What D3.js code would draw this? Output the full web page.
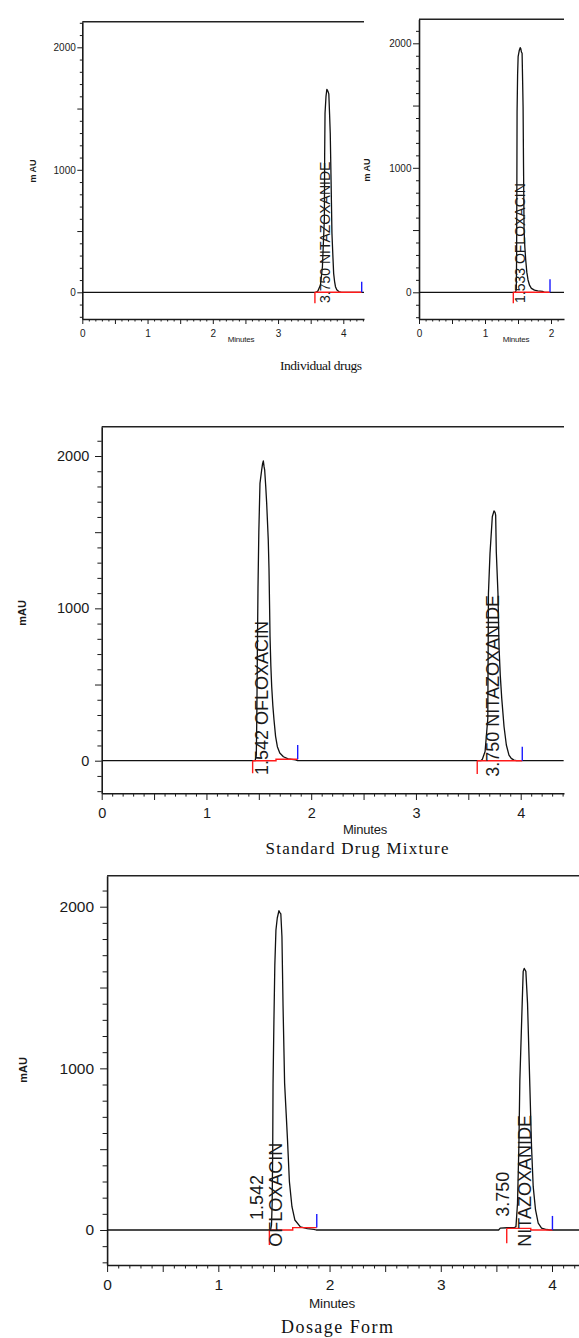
<!DOCTYPE html>
<html>
<head>
<meta charset="utf-8">
<script src="https://cdn.jsdelivr.net/npm/d3@7"></script>
<style>
  html, body { margin: 0; padding: 0; background: #fff; }
  svg { display: block; }
</style>
</head>
<body>
<svg id="chart" width="579" height="1338"></svg>
<script>
// ---------------- data ----------------
// axis tick labels
const minuteTickLabels = ['0', '1', '2', '3', '4'];
const mauTickLabels = ['0', '1000', '2000'];

// chromatogram traces: [retention time (min), absorbance (mAU)]
const nitazoxanideAloneTrace = [
  [0, 0], [3.58, 0], [3.61, 10], [3.65, 60], [3.68, 209], [3.71, 600], [3.714, 1100],
  [3.72, 1461], [3.735, 1600], [3.748, 1657], [3.765, 1640], [3.778, 1620], [3.79, 1450],
  [3.80, 1298], [3.813, 900], [3.826, 482], [3.84, 300], [3.852, 155], [3.866, 90],
  [3.88, 46], [3.90, 20], [3.93, 6], [3.97, 0], [4.32, 0]
];
const ofloxacinAloneTrace = [
  [0, 0], [1.46, 0], [1.474, 20], [1.479, 300], [1.483, 900], [1.486, 1451], [1.494, 1750],
  [1.502, 1893], [1.518, 1940], [1.533, 1965], [1.542, 1958], [1.552, 1930], [1.562, 1920],
  [1.570, 1700], [1.577, 1491], [1.584, 1000], [1.592, 500], [1.604, 360], [1.617, 259],
  [1.634, 160], [1.652, 99], [1.676, 55], [1.703, 32], [1.75, 18], [1.80, 12], [1.87, 8],
  [1.90, 0], [2.2, 0]
];
const standardMixtureTrace = [
  [0, 0], [1.465, 0], [1.476, 40], [1.481, 300], [1.486, 700], [1.492, 1131], [1.50, 1500],
  [1.511, 1820], [1.527, 1907], [1.536, 1950], [1.543, 1968], [1.550, 1930], [1.556, 1907],
  [1.566, 1800], [1.575, 1689], [1.590, 1450], [1.597, 1262], [1.603, 1000], [1.607, 814],
  [1.615, 620], [1.623, 486], [1.634, 360], [1.645, 267], [1.660, 160], [1.677, 92],
  [1.70, 50], [1.735, 26], [1.78, 12], [1.85, 6], [1.87, 0],
  [3.62, 0], [3.634, 10], [3.66, 60], [3.686, 278], [3.692, 1098], [3.707, 1361],
  [3.729, 1601], [3.745, 1640], [3.755, 1630], [3.761, 1612], [3.767, 1371], [3.783, 1098],
  [3.793, 748], [3.805, 560], [3.819, 409], [3.841, 223], [3.863, 103], [3.888, 37],
  [3.91, 15], [3.936, 4], [3.96, 0], [4.41, 0]
];
const dosageFormTrace = [
  [0, 0], [1.47, 0], [1.478, 30], [1.484, 165], [1.489, 500], [1.492, 907], [1.50, 1300],
  [1.508, 1639], [1.518, 1855], [1.530, 1930], [1.545, 1975], [1.552, 1965], [1.562, 1955],
  [1.572, 1814], [1.582, 1381], [1.596, 907], [1.610, 720], [1.622, 557], [1.639, 299],
  [1.662, 144], [1.688, 62], [1.738, 19], [1.80, 8], [1.86, 4], [1.88, 0],
  [3.52, 0], [3.535, 12], [3.60, 14], [3.66, 14], [3.676, 21], [3.690, 165], [3.702, 515],
  [3.711, 928], [3.732, 1402], [3.741, 1600], [3.75, 1618], [3.757, 1610], [3.765, 1600],
  [3.78, 1402], [3.801, 886], [3.816, 515], [3.831, 268], [3.852, 124], [3.876, 42],
  [3.906, 12], [3.95, 3], [3.98, 0], [4.45, 0]
];

// integration events: start/end times, start drop and end rise (mAU), baseline drawn between
const nitazoxanideAloneEvents = [
  { start: 3.565, end: 4.282, drop: -90, rise: 87, base: [[3.565, 0], [4.282, 0]] }
];
const ofloxacinAloneEvents = [
  { start: 1.429, end: 1.985, drop: -88, rise: 104, base: [[1.429, 0], [1.985, 0]] }
];
const standardMixtureEvents = [
  { start: 1.441, end: 1.871, drop: -83, rise: 103, base: [[1.441, 0], [1.664, 0], [1.664, 10], [1.871, 10]] },
  { start: 3.585, end: 4.015, drop: -87, rise: 92, base: [[3.585, 0], [4.015, 0]] }
];
const dosageFormEvents = [
  { start: 1.459, end: 1.885, drop: -93, rise: 99, base: [[1.459, 0], [1.669, 0], [1.669, 15], [1.885, 15]] },
  { start: 3.593, end: 4.004, drop: -82, rise: 87, base: [[3.593, 10], [3.809, 10], [3.809, 0], [4.004, 0]] }
];

// peak annotations: text, time of label centre, mAU where the text starts
const nitazoxanideAloneLabels = [{ text: '3.750 NITAZOXANIDE', t: 3.72, v: -87 }];
const ofloxacinAloneLabels = [{ text: '1.533 OFLOXACIN', t: 1.53, v: -86 }];
const standardMixtureLabels = [
  { text: '1.542 OFLOXACIN', t: 1.521, v: -94 },
  { text: '3.750 NITAZOXANIDE', t: 3.735, v: -105 }
];
const dosageFormLabels = [
  { text: '1.542', t: 1.339, v: 62 },
  { text: 'OFLOXACIN', t: 1.51, v: -103 },
  { text: '3.750', t: 3.558, v: 82 },
  { text: 'NITAZOXANIDE', t: 3.749, v: -103 }
];

// ---------------- layout ----------------
const panels = [
  { id: 'tl', trace: nitazoxanideAloneTrace, events: nitazoxanideAloneEvents, labels: nitazoxanideAloneLabels,
    x0: 82.3, xRefVal: 4, xRef: 343.3, xRight: 364, yZero: 292.3, y2000: 47.3, yTop: 21.7, yBot: 319,
    tickFont: 10, yMajor: 5, yMinor: 2.5, yPad: 1.5, xMajor: 5, xMinor: 2.5, xPad: 5.4,
    labelFont: 14, minutes: [241, 339], minutesFont: 8, mau: [33, 171], mauFont: 9, mauText: 'm AU' },
  { id: 'tr', trace: ofloxacinAloneTrace, events: ofloxacinAloneEvents, labels: ofloxacinAloneLabels,
    x0: 419, xRefVal: 2, xRef: 551, xRight: 564, yZero: 292.3, y2000: 43.3, yTop: 19.3, yBot: 319,
    tickFont: 10, yMajor: 6, yMinor: 3, yPad: 1.5, xMajor: 5, xMinor: 2.5, xPad: 5.4,
    labelFont: 14, minutes: [516, 339], minutesFont: 8, mau: [367, 170], mauFont: 9, mauText: 'm AU' },
  { id: 'mid', trace: standardMixtureTrace, events: standardMixtureEvents, labels: standardMixtureLabels,
    x0: 101.7, xRefVal: 4, xRef: 520.7, xRight: 564, yZero: 760.7, y2000: 456, yTop: 426.7, yBot: 793.3,
    tickFont: 14.5, yMajor: 6.7, yMinor: 4.3, yPad: 5.7, xMajor: 6.7, xMinor: 3.3, xPad: 7.5,
    labelFont: 18, minutes: [365, 829], minutesFont: 13, mau: [22, 613], mauFont: 11, mauText: 'mAU' },
  { id: 'bot', trace: dosageFormTrace, events: dosageFormEvents, labels: dosageFormLabels,
    x0: 107.1, xRefVal: 4, xRef: 552, xRight: 600, yZero: 1230, y2000: 906.7, yTop: 875.7, yBot: 1265,
    tickFont: 15.5, yMajor: 7, yMinor: 4.5, yPad: 6, xMajor: 7, xMinor: 3.5, xPad: 7.4,
    labelFont: 18, minutes: [332, 1303], minutesFont: 13.5, mau: [23, 1070], mauFont: 11, mauText: 'mAU' }
];

// figure captions (y is the text baseline)
const titles = [
  { text: 'Individual drugs', x: 321, y: 370, size: 13.5, len: 82 },
  { text: 'Standard Drug Mixture', x: 357, y: 853.5, size: 17, len: 183 },
  { text: 'Dosage Form', x: 337, y: 1332.5, size: 18, len: 112 }
];

const SANS = '"Liberation Sans", Arial, sans-serif';
const SERIF = '"Liberation Serif", "Times New Roman", serif';
const INK = '#1a1a1a';

const svg = d3.select('#chart');
const defs = svg.append('defs');

function styleAxis(sel, cfg) {
  sel.attr('font-family', SANS).attr('font-size', cfg.tickFont).attr('color', INK);
  sel.selectAll('.tick line').attr('stroke-width', 1);
  sel.selectAll('.tick text').attr('fill', INK);
}

function drawPanel(cfg) {
  const g = svg.append('g').attr('class', 'panel-' + cfg.id);

  const x = d3.scaleLinear().domain([0, cfg.xRefVal]).range([cfg.x0, cfg.xRef]);
  x.domain([0, x.invert(cfg.xRight)]).range([cfg.x0, cfg.xRight]);
  const y = d3.scaleLinear().domain([0, 2000]).range([cfg.yZero, cfg.y2000]);
  y.domain([y.invert(cfg.yBot), y.invert(cfg.yTop)]).range([cfg.yBot, cfg.yTop]);

  const [vMin, vMax] = y.domain();
  const tMax = x.domain()[1];

  // frame top edge
  g.append('line')
    .attr('x1', cfg.x0).attr('x2', cfg.xRight)
    .attr('y1', cfg.yTop).attr('y2', cfg.yTop)
    .attr('stroke', '#222').attr('stroke-width', 1.5);

  // y axis: minor ticks every 100, long ticks every 500, labels on thousands
  const yMinorVals = d3.range(Math.ceil(vMin / 100) * 100, vMax, 100).filter(v => v % 500 !== 0);
  const yMajorVals = d3.range(Math.ceil(vMin / 500) * 500, vMax, 500);
  const yMinorAxis = g.append('g').attr('transform', `translate(${cfg.x0},0)`)
    .call(d3.axisLeft(y).tickValues(yMinorVals).tickSize(cfg.yMinor).tickSizeOuter(0).tickFormat(''));
  yMinorAxis.select('.domain').remove();
  styleAxis(yMinorAxis, cfg);
  const yMajorAxis = g.append('g').attr('transform', `translate(${cfg.x0},0)`)
    .call(d3.axisLeft(y).tickValues(yMajorVals).tickSize(cfg.yMajor).tickSizeOuter(0).tickPadding(cfg.yPad)
      .tickFormat(v => mauTickLabels.includes(String(v)) ? String(v) : ''));
  styleAxis(yMajorAxis, cfg);
  yMajorAxis.select('.domain').attr('stroke-width', 1.6);

  // x axis: minor ticks every 0.1 min, long ticks every 0.5, labels on whole minutes
  const xMinorVals = d3.range(1, Math.floor(tMax * 10 + 1e-6) + 1).map(i => i / 10).filter(t => Math.abs(t * 2 - Math.round(t * 2)) > 1e-6);
  const xMajorVals = d3.range(0, tMax + 1e-6, 0.5);
  const xMinorAxis = g.append('g').attr('transform', `translate(0,${cfg.yBot})`)
    .call(d3.axisBottom(x).tickValues(xMinorVals).tickSize(cfg.xMinor).tickSizeOuter(0).tickFormat(''));
  xMinorAxis.select('.domain').remove();
  styleAxis(xMinorAxis, cfg);
  const xMajorAxis = g.append('g').attr('transform', `translate(0,${cfg.yBot})`)
    .call(d3.axisBottom(x).tickValues(xMajorVals).tickSize(cfg.xMajor).tickSizeOuter(0).tickPadding(cfg.xPad)
      .tickFormat(t => Number.isInteger(t) && minuteTickLabels[t] !== undefined ? minuteTickLabels[t] : ''));
  styleAxis(xMajorAxis, cfg);
  xMajorAxis.select('.domain').attr('stroke-width', 1.6);

  // plot area clip
  const clipId = 'clip-' + cfg.id;
  defs.append('clipPath').attr('id', clipId).append('rect')
    .attr('x', cfg.x0).attr('y', cfg.yTop)
    .attr('width', cfg.xRight - cfg.x0).attr('height', cfg.yBot - cfg.yTop);
  const plot = g.append('g').attr('clip-path', `url(#${clipId})`);

  // chromatogram trace
  const line = d3.line().x(d => x(d[0])).y(d => y(d[1]));
  plot.append('path').datum(cfg.trace)
    .attr('d', line).attr('fill', 'none')
    .attr('stroke', '#111').attr('stroke-width', 1.3).attr('stroke-linejoin', 'round');

  // integration baselines and event ticks
  cfg.events.forEach(ev => {
    plot.append('path').datum(ev.base)
      .attr('d', line).attr('fill', 'none')
      .attr('stroke', '#ff1a1a').attr('stroke-width', 1.4);
    plot.append('line')
      .attr('x1', x(ev.start)).attr('x2', x(ev.start))
      .attr('y1', y(ev.base[0][1])).attr('y2', y(ev.drop))
      .attr('stroke', '#ff1a1a').attr('stroke-width', 1.4);
    plot.append('line')
      .attr('x1', x(ev.end)).attr('x2', x(ev.end))
      .attr('y1', y(ev.base[ev.base.length - 1][1])).attr('y2', y(ev.rise))
      .attr('stroke', '#1a1aff').attr('stroke-width', 1.4);
  });

  // peak annotations, read bottom to top
  g.selectAll('text.peak').data(cfg.labels).join('text')
    .attr('class', 'peak')
    .attr('transform', d => `translate(${x(d.t)},${y(d.v)}) rotate(-90)`)
    .attr('dy', '0.36em')
    .attr('font-family', SANS).attr('font-size', cfg.labelFont)
    .attr('fill', INK)
    .text(d => d.text);

  // axis titles
  g.append('text')
    .attr('x', cfg.minutes[0]).attr('y', cfg.minutes[1])
    .attr('text-anchor', 'middle').attr('dominant-baseline', 'central')
    .attr('font-family', SANS).attr('font-size', cfg.minutesFont)
    .attr('fill', INK).attr('letter-spacing', -0.2)
    .text('Minutes');
  g.append('text')
    .attr('transform', `translate(${cfg.mau[0]},${cfg.mau[1]}) rotate(-90)`)
    .attr('text-anchor', 'middle').attr('dominant-baseline', 'central')
    .attr('font-family', SANS).attr('font-size', cfg.mauFont).attr('font-weight', 'bold')
    .attr('fill', INK)
    .text(cfg.mauText);
}

panels.forEach(drawPanel);

// figure captions
svg.selectAll('text.caption').data(titles).join('text')
  .attr('class', 'caption')
  .attr('x', d => d.x).attr('y', d => d.y)
  .attr('text-anchor', 'middle')
  .attr('font-family', SERIF).attr('font-size', d => d.size)
  .attr('textLength', d => d.len).attr('lengthAdjust', 'spacing')
  .attr('fill', '#111')
  .text(d => d.text);
</script>
</body>
</html>
